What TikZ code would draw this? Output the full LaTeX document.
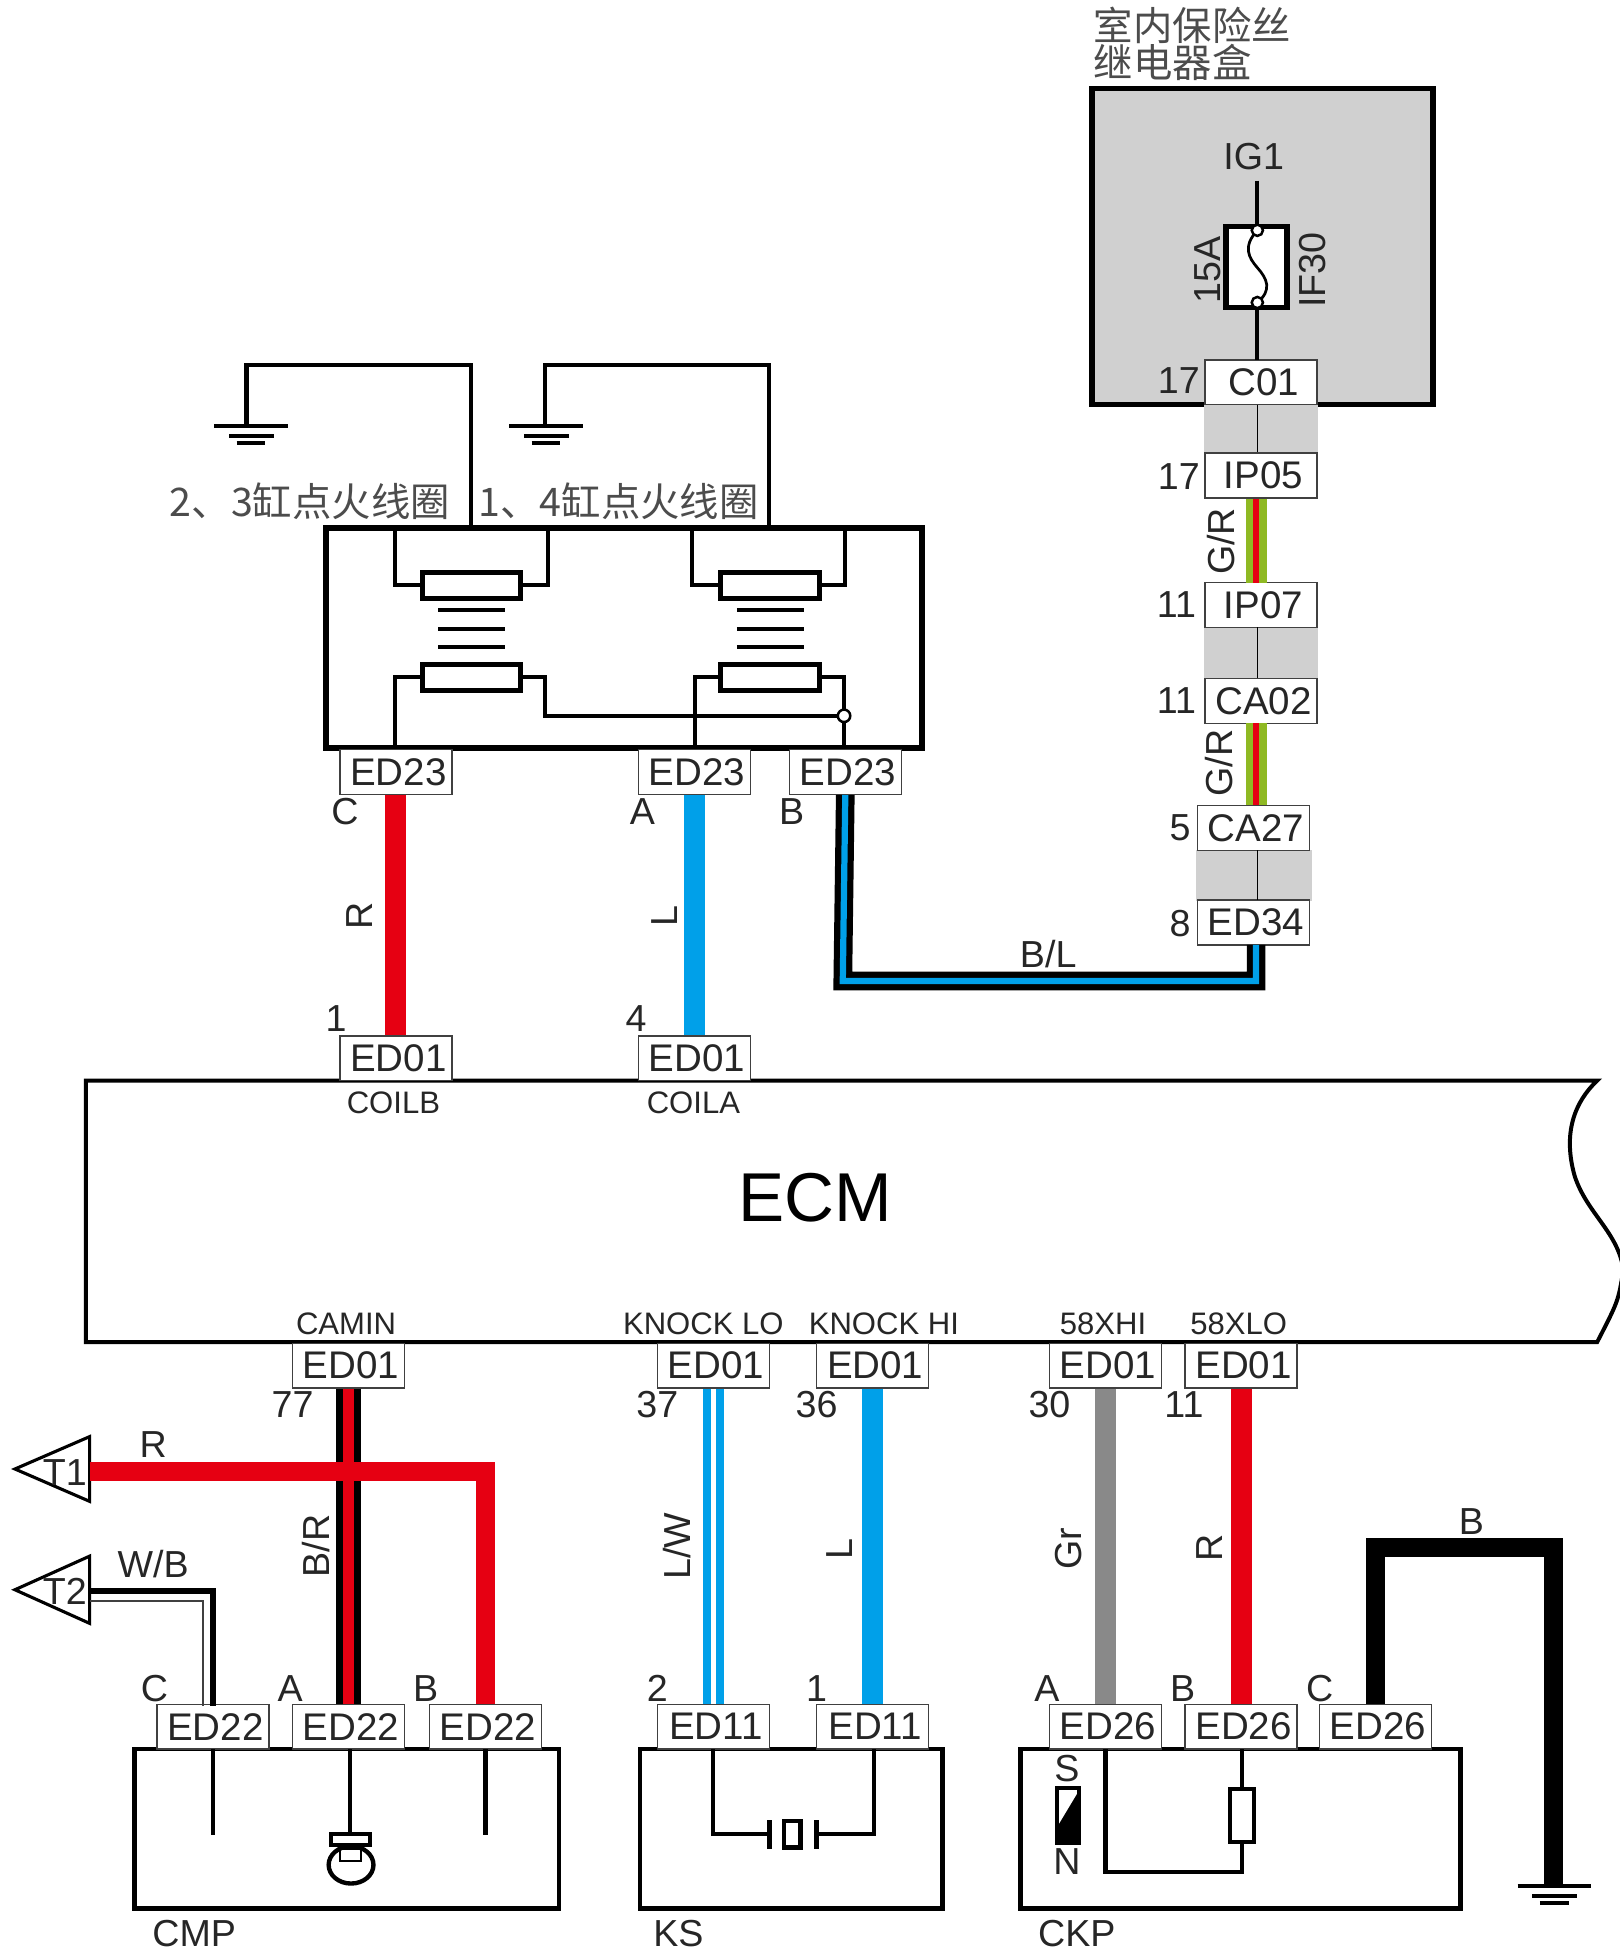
\documentclass[tikz,border=0pt]{standalone}
\usepackage{fontspec}
\usepackage{xcolor}
\usepackage{tikz}
\usetikzlibrary{calc}
\setmainfont{Liberation Sans}
\newfontfamily\cjk{Noto Sans CJK SC}
\newcommand{\grnd}[2]{%
    \draw[gnd] (#1-29,#2) -- (#1+30,#2);
    \draw[gnd] (#1-17,#2+8) -- (#1+19,#2+8);
    \draw[gnd] (#1-11,#2+14) -- (#1+12,#2+14);
}
\newcommand{\coilsym}[1]{%
    \draw[resbox] (#1-39,460) rectangle (#1+40,481);
    \draw[resbox] (#1-39,534) rectangle (#1+40,555);
    \foreach \y in {490,505,520} {
        \draw[thinw] (#1-26,\y) -- (#1+28,\y);
    }
}
\tikzset{
    conn/.style={draw=black!75, fill=white, line width=0.12mm, minimum width=9mm, minimum height=3.6mm, inner sep=0pt, font=\fontsize{8.8}{10}\selectfont, text=black!85, execute at begin node=\hspace{0.4mm}},
    lbl/.style={inner sep=0pt, font=\fontsize{8.6}{10}\selectfont, text=black!85},
    small/.style={inner sep=0pt, font=\fontsize{7.1}{8}\selectfont, text=black!85},
    cjklbl/.style={inner sep=0pt, font=\fontsize{9}{10}\selectfont\cjk, text=black!70},
    frame/.style={draw=black, line width=0.38mm},
    thinw/.style={draw=black, line width=0.33mm},
    gnd/.style={draw=black, line width=0.32mm},
    resbox/.style={draw=black, fill=white, line width=0.4mm},
    strip/.style={fill=stripgray},
    wirer/.style={draw=wred, line width=1.55mm},
    wirel/.style={draw=wblue, line width=1.7mm},
    wiregr/.style={draw=wgray, line width=1.7mm},
    wireb/.style={draw=black, line width=1.55mm},
    wiregrn/.style={draw=wgreen, line width=1.7mm},
    corer/.style={draw=wred, line width=0.5mm},
    coreblack/.style={draw=black, line width=1.5mm},
    corebl/.style={draw=wblue, line width=0.5mm},
    corewhite/.style={draw=white, line width=0.45mm}
}
\begin{document}
\begin{tikzpicture}[x=0.1mm,y=-0.1mm]
    % Define colors
    \definecolor{stripgray}{RGB}{208,208,208}
    \definecolor{wred}{RGB}{230,0,18}
    \definecolor{wblue}{RGB}{0,160,233}
    \definecolor{wgray}{RGB}{137,137,137}
    \definecolor{wgreen}{RGB}{143,185,35}
    \useasboundingbox (0,0) rectangle (1301,1568);

    % Fuse box
    \node[cjklbl, anchor=west] (boxa) at (878,20) {室内保险丝};
    \node[cjklbl, anchor=west] (boxb) at (878,50) {继电器盒};
    \draw[frame, fill=stripgray, line width=0.45mm] (877,71) rectangle (1151,325);
    \node[lbl] (ig1) at (1007,126) {IG1};
    \node[lbl, rotate=90] (a15) at (970,217) {15A};
    \node[lbl, rotate=90] (if30) at (1054,217) {IF30};
    \node[conn] (c01) at (1013,307) {C01};
    \node[lbl] (n17a) at (947,306) {17};
    \draw[resbox, line width=0.45mm] (985,182) coordinate (fusetl) rectangle (1034,247);
    \draw[thinw] (1010,145) -- (1010,182);
    \draw[thinw] (1010,247) -- (1010,289);
    \draw[draw=black, line width=0.22mm] (1010,185) .. controls (998,198) and (1003,207) .. (1010,215) .. controls (1018,224) and (1022,233) .. (1010,243);
    \draw[thinw, fill=white, line width=0.2mm] (1010,185) circle (4.5);
    \draw[thinw, fill=white, line width=0.2mm] (1010,243) circle (4.5);

    % Gray strips between connectors
    \fill[strip] (967,325) rectangle (1059,364);
    \fill[strip] (967,504) rectangle (1059,546);
    \fill[strip] (961,683) rectangle (1054,724);

    % Connectors down the right side
    \node[conn] (ip05) at (1013,382) {IP05};
    \node[conn] (ip07) at (1013,486) {IP07};
    \node[conn] (ca02) at (1013,563) {CA02};
    \node[conn] (ca27) at (1007,665) {CA27};
    \node[conn] (ed34) at (1007,741) {ED34};
    \node[lbl] (n17b) at (947,383) {17};
    \node[lbl] (n11a) at (945,486) {11};
    \node[lbl] (n11b) at (945,563) {11};
    \node[lbl] (n5) at (948,665) {5};
    \node[lbl] (n8) at (948,742) {8};
    \draw[draw=black, line width=0.12mm] (1010,325) -- (1010,363);
    \draw[draw=black, line width=0.12mm] (1010,504) -- (1010,545);
    \draw[draw=black, line width=0.12mm] (1010,683) -- (1010,723);
    \node[lbl, rotate=90] (grup) at (981,435) {G/R};
    \node[lbl, rotate=90] (grdn) at (979,613) {G/R};
    \draw[wiregrn] (1009,401) -- (1009,468);
    \draw[corer] (1009,401) -- (1009,468);
    \draw[wiregrn] (1009,581) -- (1009,647);
    \draw[corer] (1009,581) -- (1009,647);

    % Ignition coils
    \draw[thinw] (198,343) -- (198,293) -- (378,293) -- (378,424);
    \draw[thinw] (438,343) -- (438,293) -- (618,293) -- (618,424);
    \grnd{201}{342}
    \grnd{438}{342}
    \node[cjklbl, anchor=east] (coilb) at (362,403) {2、3缸点火线圈};
    \node[cjklbl, anchor=east] (coila) at (610,403) {1、4缸点火线圈};
    \draw[frame, line width=0.48mm] (262,424) rectangle (741,601);
    \draw[thinw] (317,424) -- (317,470) -- (339,470);
    \draw[thinw] (418,470) -- (440,470) -- (440,424);
    \draw[thinw] (556,424) -- (556,470) -- (579,470);
    \draw[thinw] (658,470) -- (679,470) -- (679,424);
    \draw[thinw] (317,601) -- (317,544) -- (339,544);
    \draw[thinw] (418,544) -- (438,544) -- (438,575) -- (678,575);
    \draw[thinw] (558,601) -- (558,544) -- (579,544);
    \draw[thinw] (658,544) -- (678,544) -- (678,601);
    \coilsym{378}
    \coilsym{618}
    \draw[thinw, fill=white, line width=0.2mm] (678,575) circle (5);
    \node[conn] (ed23c) at (318,620) {ED23};
    \node[conn] (ed23a) at (558,620) {ED23};
    \node[conn] (ed23b) at (679,620) {ED23};
    \node[lbl] (lc) at (277,652) {C};
    \node[lbl] (la) at (516,652) {A};
    \node[lbl] (lb) at (636,652) {B};

    % ECM
    \draw[frame, fill=white, line width=0.32mm] (69,868) -- (1283,868) .. controls (1265,885) and (1255,910) .. (1265,945) .. controls (1275,975) and (1300,990) .. (1304,1020) .. controls (1300,1045) .. (1283,1078) -- (69,1078) -- cycle;
    \node[inner sep=0pt, font=\fontsize{15.8}{18}\selectfont] (ecm) at (655,962) {ECM};
    \node[conn] (ed01b) at (318,850) {ED01};
    \node[conn] (ed01a) at (558,850) {ED01};
    \node[lbl] (n1) at (270,818) {1};
    \node[lbl] (n4) at (511,818) {4};
    \node[small] (coilbt) at (316,886) {COILB};
    \node[small] (coilat) at (557,886) {COILA};
    \node[small] (camin) at (278,1063) {CAMIN};
    \node[small] (knocklo) at (565,1063) {KNOCK LO};
    \node[small] (knockhi) at (710,1063) {KNOCK HI};
    \node[small] (xhi) at (886,1063) {58XHI};
    \node[small] (xlo) at (995,1063) {58XLO};

    % Coil wires
    \draw[wirer, line width=1.7mm] (ed23c.south) -- (ed01b.north);
    \draw[wirel] (ed23a.south) -- (ed01a.north);
    \node[lbl, rotate=90] (lr) at (289,736) {R};
    \node[lbl, rotate=90] (ll) at (534,736) {L};
    \coordinate (blend) at (1009,759);
    \draw[coreblack] (ed23b.south) -- (677,788) -- (1009,788) -- (blend);
    \draw[corebl] (ed23b.south) -- (677,788) -- (1009,788) -- (blend);
    \node[lbl] (lbl) at (842,766) {B/L};

    % ECM lower connectors
    \node[conn] (ed01c) at (280,1097) {ED01};
    \node[conn] (ed01d) at (573,1097) {ED01};
    \node[conn] (ed01e) at (701,1097) {ED01};
    \node[conn] (ed01f) at (888,1097) {ED01};
    \node[conn] (ed01g) at (997,1097) {ED01};
    \node[lbl] (n77) at (235,1128) {77};
    \node[lbl] (n37) at (528,1128) {37};
    \node[lbl] (n36) at (656,1128) {36};
    \node[lbl] (n30) at (843,1128) {30};
    \node[lbl] (n11c) at (951,1128) {11};

    % CMP sensor
    \draw[frame] (108,1405) rectangle (449,1533);
    \node[lbl] (cmp) at (156,1553) {CMP};
    \node[conn] (ed22c) at (171,1387) {ED22};
    \node[conn] (ed22a) at (280,1387) {ED22};
    \node[conn] (ed22b) at (390,1387) {ED22};
    \node[lbl] (lc2) at (124,1356) {C};
    \node[lbl] (la2) at (233,1356) {A};
    \node[lbl] (lb2) at (342,1356) {B};
    \draw[thinw] (171,1405) -- (171,1474);
    \draw[thinw] (281,1405) -- (281,1474);
    \draw[thinw] (390,1405) -- (390,1474);
    \draw[frame, fill=white, line width=0.3mm] (266,1473) rectangle (297,1482);
    \draw[thinw, line width=0.35mm] (282,1498) ellipse (18 and 15);
    \draw[thinw, line width=0.2mm] (273,1485) rectangle (290,1495);
    \draw[coreblack, line width=2mm] (ed01c.south) -- (ed22a.north);
    \draw[corer, line width=0.95mm] (ed01c.south) -- (ed22a.north);
    \node[lbl, rotate=90] (lbr) at (254,1242) {B/R};

    % T1 and T2
    \draw[thinw, line width=0.25mm] (12,1180) -- (72,1154) -- (72,1206) -- cycle;
    \draw[thinw, line width=0.25mm] (12,1277) -- (72,1250) -- (72,1304) -- cycle;
    \node[lbl] (t1) at (52,1183) {T1};
    \node[lbl] (t2) at (52,1278) {T2};
    \coordinate (t1end) at (72,1182);
    \draw[wirer] (t1end) -| (ed22b.north);
    \node[lbl] (lr2) at (123,1160) {R};
    \coordinate (t2end) at (72,1278);
    \coordinate (t2endb) at (72,1286);
    \draw[draw=black, line width=0.5mm] (t2end) -- (171,1278) -- (171,1370);
    \draw[draw=black!75, line width=0.12mm] (t2endb) -- (163,1286) -- (163,1370);
    \node[lbl] (lwb) at (123,1256) {W/B};

    % KS sensor
    \draw[frame] (514,1405) rectangle (757,1533);
    \node[lbl] (ks) at (545,1553) {KS};
    \node[conn] (ed11a) at (573,1387) {ED11};
    \node[conn] (ed11b) at (701,1387) {ED11};
    \node[lbl] (n2) at (528,1356) {2};
    \node[lbl] (n1b) at (656,1356) {1};
    \draw[wirel] (ed01d.south) -- (ed11a.north);
    \draw[corewhite] (ed01d.south) -- (ed11a.north);
    \draw[wirel] (ed01e.south) -- (ed11b.north);
    \node[lbl, rotate=90] (llw) at (544,1242) {L/W};
    \node[lbl, rotate=90] (ll2) at (674,1244) {L};
    \draw[thinw] (573,1405) -- (573,1473) -- (616,1473);
    \draw[thinw] (702,1405) -- (702,1473) -- (658,1473);
    \draw[thinw, line width=0.35mm] (618,1462) -- (618,1485);
    \draw[thinw, line width=0.35mm] (656,1462) -- (656,1485);
    \draw[thinw, line width=0.35mm] (630,1463) rectangle (643,1484);

    % CKP sensor
    \draw[frame] (820,1405) rectangle (1173,1533);
    \node[lbl] (ckp) at (865,1553) {CKP};
    \node[conn] (ed26a) at (888,1387) {ED26};
    \node[conn] (ed26b) at (997,1387) {ED26};
    \node[conn] (ed26c) at (1105,1387) {ED26};
    \node[lbl] (la3) at (841,1356) {A};
    \node[lbl] (lb3) at (950,1356) {B};
    \node[lbl] (lc3) at (1060,1356) {C};
    \draw[wiregr] (ed01f.south) -- (ed26a.north);
    \draw[wirer, line width=1.7mm] (ed01g.south) -- (ed26b.north);
    \node[lbl, rotate=90] (lgr) at (858,1244) {Gr};
    \node[lbl, rotate=90] (lr3) at (972,1243) {R};
    \coordinate (gnda) at (1248,1515);
    \draw[wireb] (ed26c.north) -- (1105,1243) -- (1248,1243) -- (gnda);
    \node[lbl] (lb4) at (1182,1222) {B};
    \grnd{1248}{1515}
    \draw[thinw] (888,1405) -- (888,1504) -- (998,1504) -- (998,1480);
    \draw[thinw] (998,1405) -- (998,1437);
    \draw[resbox, line width=0.32mm] (988,1437) rectangle (1007,1480);
    \draw[thinw, fill=white] (849,1436) rectangle (867,1480);
    \fill[black] (849,1480) -- (849,1468) -- (867,1438) -- (867,1480) -- cycle;
    \node[lbl] (ls) at (857,1421) {S};
    \node[lbl] (ln) at (857,1495) {N};
\end{tikzpicture}
\end{document}
